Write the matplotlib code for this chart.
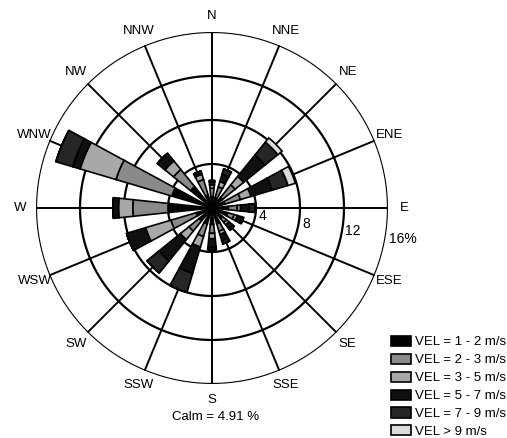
import numpy as np
import matplotlib.pyplot as plt

plt.rcParams['font.family'] = ['Liberation Sans', 'DejaVu Sans']

directions = ['N', 'NNE', 'NE', 'ENE', 'E', 'ESE', 'SE', 'SSE',
              'S', 'SSW', 'SW', 'WSW', 'W', 'WNW', 'NW', 'NNW']

# frequency (%) of each speed class per direction
vel_1_2 = [1.0, 1.0, 1.2, 1.2, 1.5, 1.5, 1.2, 1.5, 1.5, 1.5, 1.5, 1.5, 4.0, 3.8, 2.5, 1.2]
vel_2_3 = [0.8, 1.0, 1.5, 1.5, 0.8, 0.6, 0.5, 0.7, 0.8, 1.2, 1.2, 2.4, 3.2, 5.3, 2.0, 1.5]
vel_3_5 = [0.3, 0.5, 1.0, 1.0, 0.3, 0.3, 0.3, 0.3, 0.5, 1.0, 1.0, 2.4, 1.3, 3.4, 1.0, 0.5]
vel_5_7 = [0.3, 0.7, 2.5, 2.0, 0.8, 0.4, 0.4, 0.6, 0.8, 2.5, 2.5, 1.8, 0.5, 0.7, 0.9, 0.3]
vel_7_9 = [0.1, 0.5, 1.5, 1.5, 0.5, 0.2, 0.2, 0.3, 0.2, 1.8, 1.4, 0.0, 0.0, 1.6, 0.0, 0.0]
vel_9 = [0.0, 0.0, 0.5, 0.7, 0.0, 0.0, 0.0, 0.0, 0.0, 0.0, 0.0, 0.0, 0.0, 0.0, 0.0, 0.0]

classes = [vel_1_2, vel_2_3, vel_3_5, vel_5_7, vel_7_9, vel_9]
labels = ['VEL = 1 - 2 m/s', 'VEL = 2 - 3 m/s', 'VEL = 3 - 5 m/s',
          'VEL = 5 - 7 m/s', 'VEL = 7 - 9 m/s', 'VEL > 9 m/s']
colors = ['#000000', '#8a8a8a', '#a8a8a8', '#101010', '#262626', '#dcdcdc']
rings = [4, 8, 12, 16]
calm = 4.91

fig = plt.figure(figsize=(5.07, 4.38), dpi=100)
ax = fig.add_axes([36 / 507, 54 / 438, 352 / 507, 352 / 438], projection='polar')
ax.set_theta_zero_location('N')
ax.set_theta_direction(-1)
ax.set_ylim(0, 16)

theta = np.deg2rad(np.arange(16) * 22.5)
width = np.deg2rad(12)

# grid lines behind the bars
for r in rings:
    ax.plot(np.linspace(0, 2 * np.pi, 400), [r] * 400, color='black', lw=1.6, zorder=1)
for t in theta:
    ax.plot([t, t], [0, 16], color='black', lw=1.4, zorder=1)

bottom = np.zeros(16)
handles = []
for vals, col, lab in zip(classes, colors, labels):
    vals = np.array(vals)
    b = ax.bar(theta, vals, width=width, bottom=bottom, color=col,
               edgecolor='black', linewidth=1.2, zorder=3, label=lab)
    handles.append(b)
    bottom = bottom + vals

ax.grid(False)
ax.set_xticklabels([])
ax.set_yticklabels([])
ax.spines['polar'].set_visible(False)

for t, d in zip(theta, directions):
    ax.text(t, 17.45, d, ha='center', va='center', fontsize=9.5)

for r in rings:
    txt = '16%' if r == 16 else str(r)
    ax.text(np.deg2rad(100), r + 0.3, txt, ha='left', va='center', fontsize=10)

fig.text(216 / 507, 1 - 417 / 438, f'Calm = {calm} %', ha='center', va='center', fontsize=9.5)

fig.legend(handles=handles, loc='lower left', bbox_to_anchor=(386 / 507, -0.012),
           frameon=False, fontsize=9.5, handlelength=1.5, handleheight=0.8,
           handletextpad=0.3, labelspacing=0.4, borderaxespad=0)

fig.savefig('out.png', dpi=100)
